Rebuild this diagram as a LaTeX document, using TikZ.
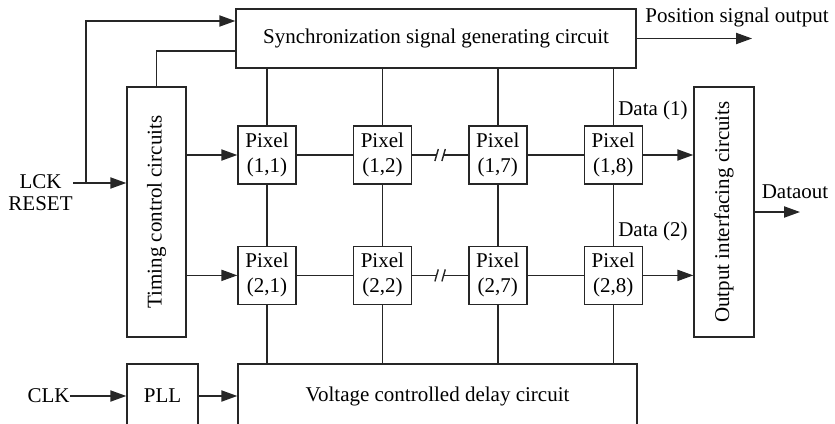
\documentclass[tikz,border=0pt]{standalone}
\usepackage{fontspec}
\setmainfont{Liberation Serif}
\usetikzlibrary{arrows.meta,positioning}
\definecolor{cInk}{HTML}{262626}
\tikzset{
  box/.style   = {draw=cInk, line width=0.7pt, align=center, inner sep=2pt,
                  font=\fontsize{10.5}{12.5}\selectfont},
  pixel/.style = {box, minimum width=29pt, minimum height=29pt},
  tall/.style  = {box, minimum width=29.5pt, minimum height=125pt},
  wire/.style  = {draw=cInk, line width=0.7pt},
  flow/.style  = {wire, -{Triangle[length=8pt, width=5.6pt]}},
  lbl/.style   = {font=\fontsize{10.5}{11}\selectfont, align=center, inner sep=0pt},
}
\begin{document}
\begin{tikzpicture}[x=0.5pt, y=-0.5pt]
  \useasboundingbox (0,0) rectangle (835,423);
  \clip (0,0) rectangle (835,423);
  % blocks
  \node[box, minimum width=200pt, minimum height=29.5pt] (sync) at (436,38.5)
    {Synchronization signal generating circuit};
  \node[tall] (timing) at (156.5,212) {\rotatebox{90}{Timing control circuits}};
  \node[tall, minimum width=30pt] (output) at (724,212)
    {\rotatebox{90}{Output interfacing circuits}};
  \node[box, minimum width=199.5pt, minimum height=32pt] (vcd) at (437.5,396)
    {Voltage controlled delay circuit};
  \node[box, minimum width=35.5pt, minimum height=32pt] (pll) at (162.5,396) {PLL};
  % pixel array
  \node[pixel] (p11) at (267,155) {Pixel\\(1,1)};
  \node[pixel, right=28pt of p11] (p12) {Pixel\\(1,2)};
  \node[pixel, right=28pt of p12] (p17) {Pixel\\(1,7)};
  \node[pixel, right=28pt of p17] (p18) {Pixel\\(1,8)};
  \node[pixel, below=30.5pt of p11] (p21) {Pixel\\(2,1)};
  \node[pixel, below=30.5pt of p12] (p22) {Pixel\\(2,2)};
  \node[pixel, below=30.5pt of p17] (p27) {Pixel\\(2,7)};
  \node[pixel, below=30.5pt of p18] (p28) {Pixel\\(2,8)};
  % labels
  \node[lbl, anchor=east] (lck) at (73,193) {LCK\\RESET};
  \node[lbl, anchor=east] (clk) at (70,396) {CLK};
  \node[lbl] (postxt) at (737,17) {Position signal output};
  \node[lbl] (d1) at (653,110) {Data (1)};
  \node[lbl] (d2) at (653,231) {Data (2)};
  \node[lbl] (douttxt) at (795,192) {Dataout};
  \coordinate (split) at (86,183);
  \coordinate (pos) at (752,38.5);
  \coordinate (dout) at (800,212);
  % inputs
  \draw[flow] (lck.east |- split) -- (split -| timing.west);
  \draw[flow] (split) |- ([yshift=8.75pt]sync.west);
  \draw[wire] (timing.north) |- ([yshift=-6.25pt]sync.west);
  \draw[flow] (clk) -- (pll);
  \draw[flow] (pll) -- (vcd);
  % outputs
  \draw[flow] (sync) -- (pos);
  \draw[flow] (output) -- (dout);
  % columns
  \foreach \c in {1,2,7,8} {
    \draw[wire] (p1\c) -- (p1\c |- sync.south);
    \draw[wire] (p1\c) -- (p2\c);
    \draw[wire] (p2\c) -- (p2\c |- vcd.north);
  }
  % rows
  \foreach \r in {1,2} {
    \draw[flow] (timing.east |- p\r1) -- (p\r1);
    \draw[wire] (p\r1) -- (p\r2);
    \draw[wire] (p\r2) -- coordinate (brk\r) (p\r7);
    \draw[wire] (p\r7) -- (p\r8);
    \draw[flow] (p\r8) -- (output.west |- p\r8);
    \fill[white] ([xshift=-1.7pt, yshift=-1pt]brk\r) rectangle ([xshift=1.7pt, yshift=1pt]brk\r);
    \draw[wire] ([xshift=-2.6pt, yshift=-3pt]brk\r) -- ([xshift=-0.9pt, yshift=3pt]brk\r)
                ([xshift=0.9pt, yshift=-3pt]brk\r) -- ([xshift=2.6pt, yshift=3pt]brk\r);
  }
\end{tikzpicture}
\end{document}
